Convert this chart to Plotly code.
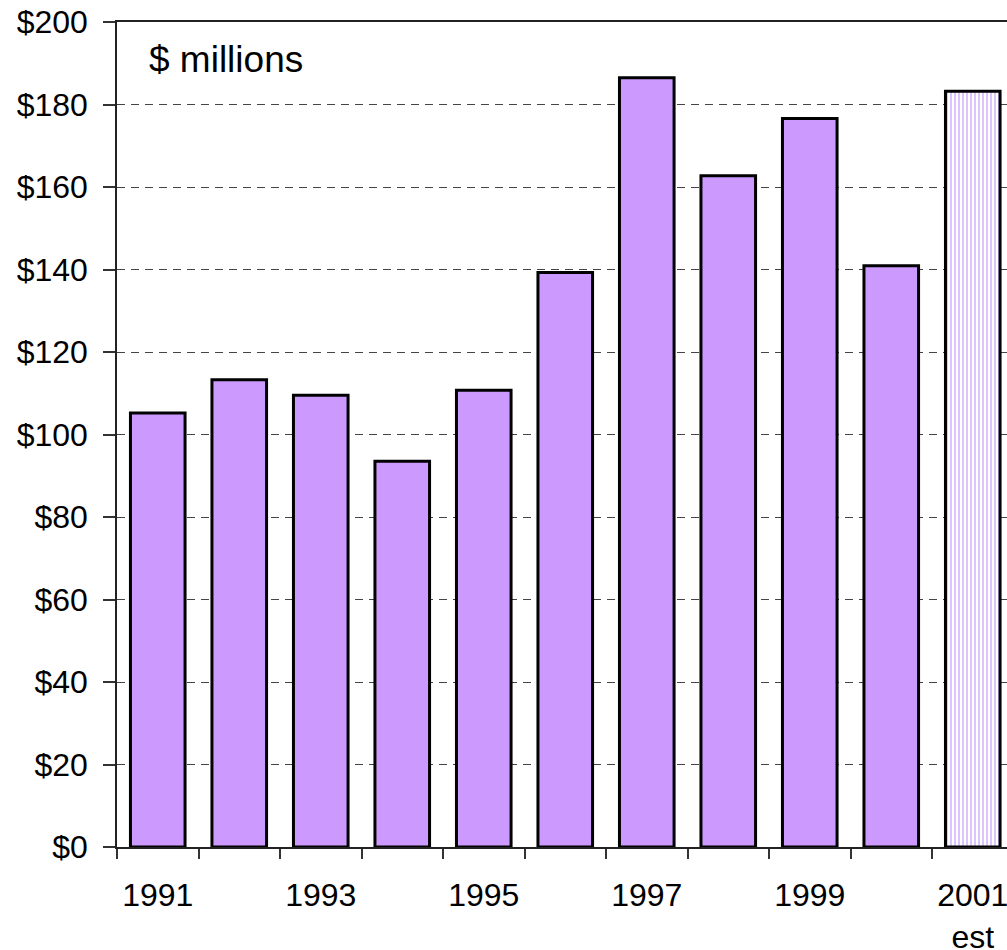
import plotly.graph_objects as go

years = ["1991", "1992", "1993", "1994", "1995", "1996", "1997", "1998", "1999", "2000", "2001"]
values = [105.2, 113.3, 109.5, 93.5, 110.7, 139.3, 186.5, 162.7, 176.6, 140.9, 183.2]
tick_labels = ["1991", "", "1993", "", "1995", "", "1997", "", "1999", "", "2001<br>est"]
y_ticks = [0, 20, 40, 60, 80, 100, 120, 140, 160, 180, 200]
n_actual = 10  # 1991-2000 actual, 2001 estimated

PURPLE = "#CC99FF"
FONT = "Liberation Sans, Arial, sans-serif"

fig = go.Figure()
fig.add_trace(go.Bar(
    x=years[:n_actual],
    y=values[:n_actual],
    marker=dict(color=PURPLE, line=dict(color="black", width=3)),
    width=0.67,
    showlegend=False,
))
fig.add_trace(go.Bar(
    x=years[n_actual:],
    y=values[n_actual:],
    marker=dict(
        color="white",
        line=dict(color="black", width=3),
        pattern=dict(shape="|", fgcolor="#B07CFF", bgcolor="white",
                     size=4, solidity=0.45),
    ),
    width=0.67,
    showlegend=False,
))

fig.update_layout(
    width=1007,
    height=950,
    margin=dict(l=117, r=0, t=22, b=103, autoexpand=False),
    barmode="overlay",
    paper_bgcolor="white",
    plot_bgcolor="white",
    font=dict(family=FONT, size=32, color="black"),
    xaxis=dict(
        type="category",
        categoryorder="array",
        categoryarray=years,
        range=[-0.5, 10.42],
        tickmode="array",
        tickvals=years,
        ticktext=tick_labels,
        tickson="boundaries",
        ticks="outside",
        ticklen=10,
        tickwidth=1.5,
        tickcolor="#333333",
        showline=True,
        linecolor="#222222",
        linewidth=1.5,
        mirror=True,
        showgrid=False,
        automargin=False,
        ticklabelstandoff=19,
        tickfont=dict(family=FONT, size=32, color="black"),
    ),
    yaxis=dict(
        range=[0, 200],
        tickmode="array",
        tickvals=y_ticks,
        ticktext=["$" + str(v) for v in y_ticks],
        ticks="outside",
        ticklen=12,
        tickwidth=1.5,
        tickcolor="#333333",
        showline=True,
        linecolor="#222222",
        linewidth=1.5,
        showgrid=True,
        gridcolor="#444444",
        gridwidth=1.2,
        griddash="8px,6px",
        zeroline=False,
        automargin=False,
        ticklabelstandoff=9,
        tickfont=dict(family=FONT, size=32, color="black"),
    ),
    annotations=[
        dict(
            text="$ millions",
            xref="paper", yref="paper",
            x=0.034, y=0.955,
            xanchor="left", yanchor="middle",
            showarrow=False,
            font=dict(family=FONT, size=37, color="black"),
        )
    ],
)

fig.write_html(
    "out.html",
    config={"displayModeBar": False},
    post_script="document.body.style.margin='0';document.body.style.overflow='hidden';",
)
